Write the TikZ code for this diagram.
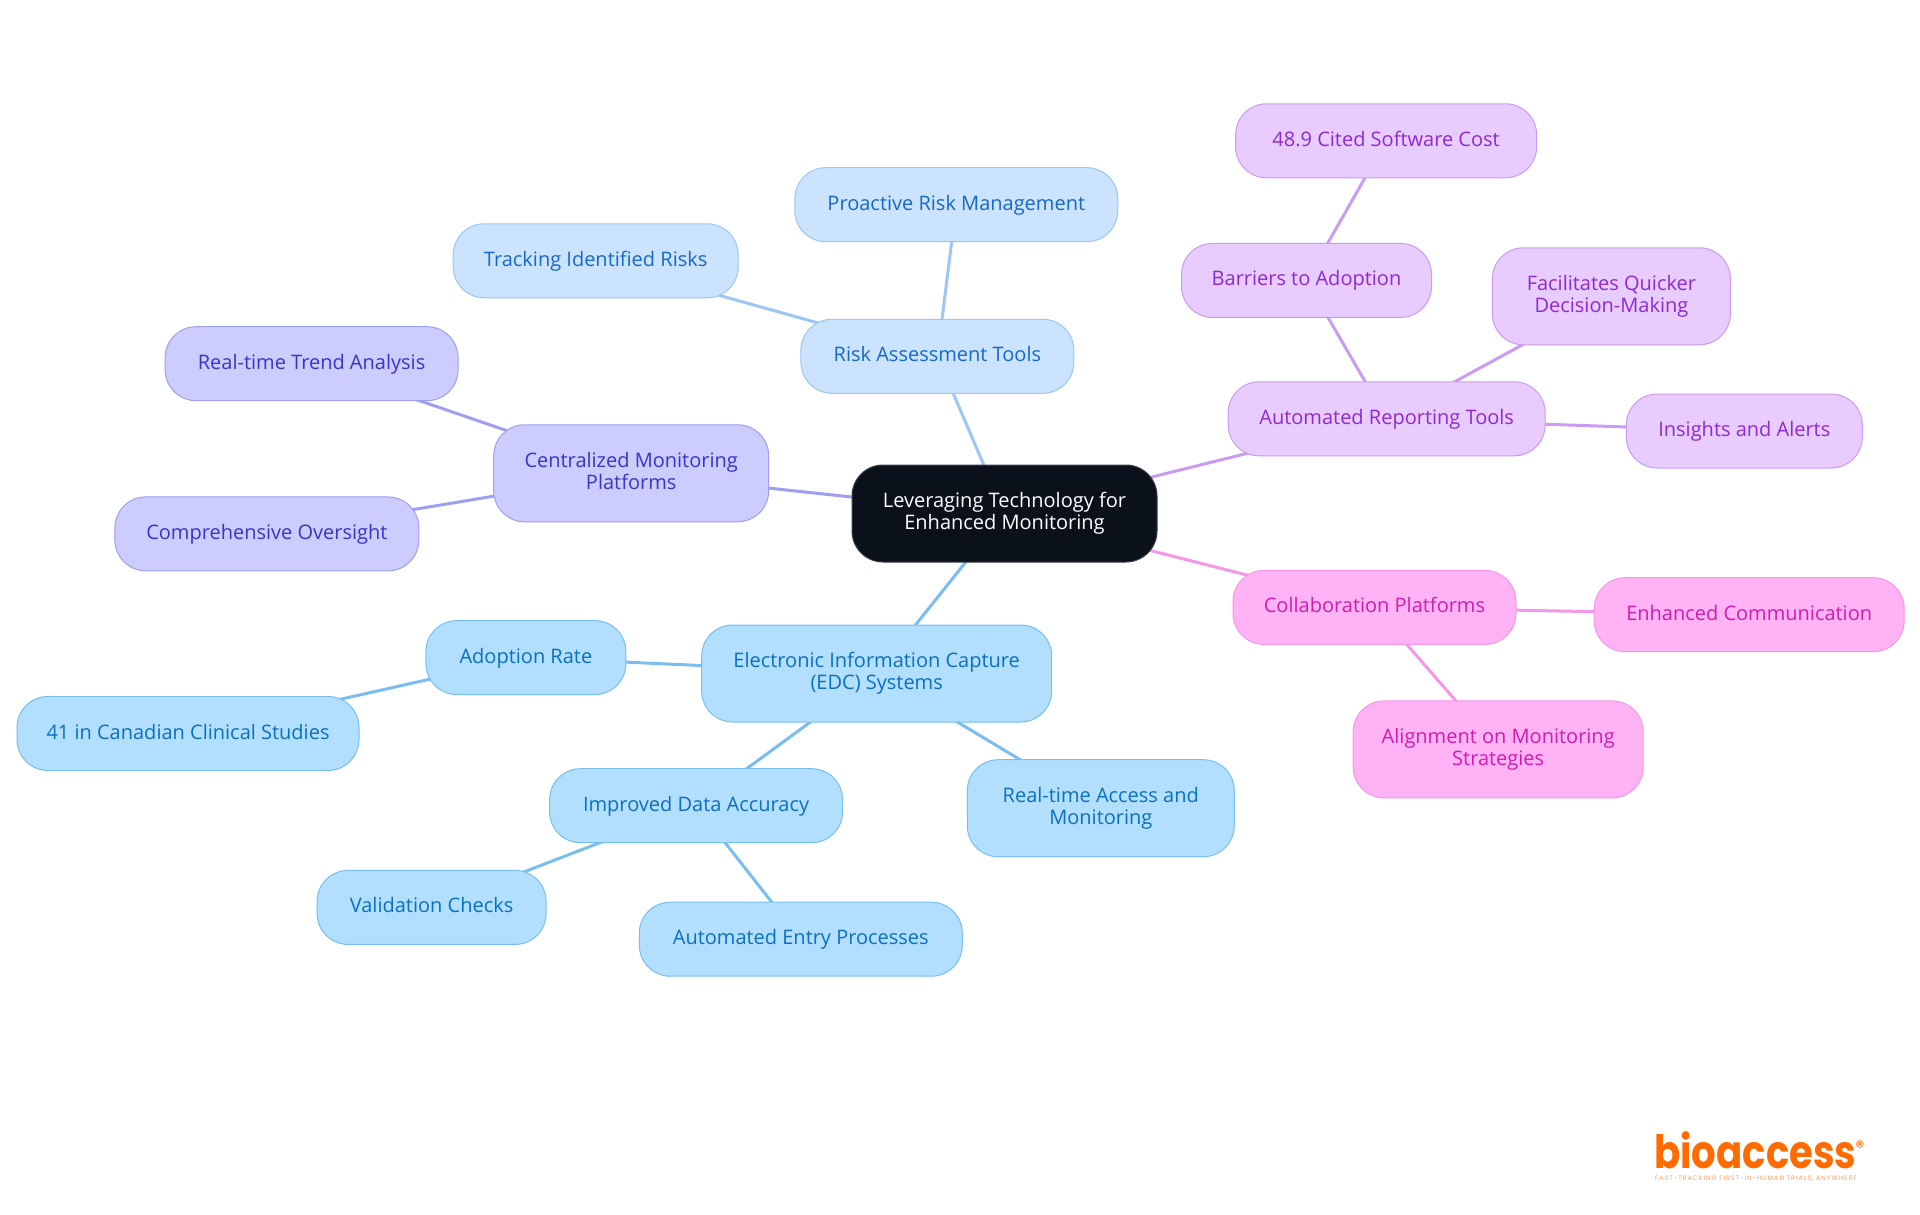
\documentclass[tikz,border=0pt]{standalone}
\usepackage{xcolor}
\usepackage{fontspec}
\setmainfont{Open Sans}
\newfontfamily\logofont[FakeStretch=0.84]{Poppins}
\newfontfamily\tagfont[LetterSpace=14]{Poppins}
\usetikzlibrary{backgrounds}
\definecolor{rootfill}{HTML}{0B111B}
\definecolor{rootline}{HTML}{3A3F47}
\definecolor{riskfill}{HTML}{CCE3FD}
\definecolor{riskline}{HTML}{9CC6F4}
\definecolor{risktext}{HTML}{1668C9}
\definecolor{centfill}{HTML}{CCCCFF}
\definecolor{centline}{HTML}{9E9EF2}
\definecolor{centtext}{HTML}{3636C8}
\definecolor{autofill}{HTML}{E8CBFF}
\definecolor{autoline}{HTML}{CB9BF3}
\definecolor{autotext}{HTML}{8F2AD0}
\definecolor{collfill}{HTML}{FFB3F4}
\definecolor{collline}{HTML}{F596E6}
\definecolor{colltext}{HTML}{D01CB0}
\definecolor{edcfill}{HTML}{B3DFFF}
\definecolor{edcline}{HTML}{78BEF0}
\definecolor{edctext}{HTML}{0A70C0}
\definecolor{logoorange}{HTML}{FF6B00}
\newcommand{\linetop}{\rule{0pt}{16pt}}
\newcommand{\linebot}{\rule[-5pt]{0pt}{5pt}}

\begin{document}
\begin{tikzpicture}[x=1pt,y=-1pt]
	\tikzstyle{vert}=[draw, rounded corners=31pt, line width=1pt, align=center, inner sep=0pt, minimum height=74pt, font=\fontsize{20}{22}\selectfont, execute at begin node=\linetop, execute at end node=\linebot]
	\tikzstyle{root}=[vert, fill=rootfill, draw=rootline, text=white, minimum height=97pt]
	\tikzstyle{risk}=[vert, fill=riskfill, draw=riskline, text=risktext]
	\tikzstyle{cent}=[vert, fill=centfill, draw=centline, text=centtext]
	\tikzstyle{auto}=[vert, fill=autofill, draw=autoline, text=autotext]
	\tikzstyle{coll}=[vert, fill=collfill, draw=collline, text=colltext]
	\tikzstyle{edc}=[vert, fill=edcfill, draw=edcline, text=edctext]
	\tikzstyle{tall}=[minimum height=97pt]
	\useasboundingbox (0,0) rectangle (1920,1215);

	\node[root] (Lev) at (1004.5,513.5) [minimum width=305pt] {Leveraging Technology for\\Enhanced Monitoring};

	\node[risk] (Risk) at (937.4,356.3) [minimum width=273pt] {Risk Assessment Tools};
	\node[risk] (Proact) at (956.3,204.7) [minimum width=323pt] {Proactive Risk Management};
	\node[risk] (Track) at (595.7,260.8) [minimum width=285pt] {Tracking Identified Risks};

	\node[cent] (Cent) at (631.2,473.3) [tall, minimum width=275pt] {Centralized Monitoring\\Platforms};
	\node[cent] (Trend) at (311.6,363.7) [minimum width=293pt] {Real-time Trend Analysis};
	\node[cent] (Over) at (266.9,533.9) [minimum width=304pt] {Comprehensive Oversight};

	\node[edc] (Edc) at (876.7,673.5) [tall, minimum width=350pt] {Electronic Information Capture\\(EDC) Systems};
	\node[edc] (Adopt) at (525.9,657.6) [minimum width=200pt] {Adoption Rate};
	\node[edc] (Canada) at (188,733.5) [minimum width=342pt] {41 in Canadian Clinical Studies};
	\node[edc] (Accur) at (696.1,805.7) [minimum width=293pt] {Improved Data Accuracy};
	\node[edc] (Valid) at (431.6,907.4) [minimum width=229pt] {Validation Checks};
	\node[edc] (Entry) at (800.8,939.2) [minimum width=323pt] {Automated Entry Processes};
	\node[edc] (Access) at (1100.8,808.2) [tall, minimum width=267pt] {Real-time Access and\\Monitoring};

	\node[auto] (Report) at (1386.7,418.8) [minimum width=317pt] {Automated Reporting Tools};
	\node[auto] (Barr) at (1306.5,280.4) [minimum width=250pt] {Barriers to Adoption};
	\node[auto] (Cost) at (1386.1,140.8) [minimum width=301pt] {48.9 Cited Software Cost};
	\node[auto] (Quick) at (1611.4,296.3) [tall, minimum width=238pt] {Facilitates Quicker\\Decision-Making};
	\node[auto] (Alert) at (1744.3,431) [minimum width=236pt] {Insights and Alerts};

	\node[coll] (Coll) at (1374.5,607.4) [minimum width=283pt] {Collaboration Platforms};
	\node[coll] (Comm) at (1749.2,614.7) [minimum width=310pt] {Enhanced Communication};
	\node[coll] (Align) at (1498.2,749.4) [tall, minimum width=290pt] {Alignment on Monitoring\\Strategies};

	\begin{scope}[on background layer]
		\path[draw=riskline, line width=3pt]
			(Lev.center) edge (Risk.center)
			(Risk.center) edge (Proact.center)
			(Risk.center) edge (Track.center);
		\path[draw=centline, line width=3pt]
			(Lev.center) edge (Cent.center)
			(Cent.center) edge (Trend.center)
			(Cent.center) edge (Over.center);
		\path[draw=edcline, line width=3pt]
			(Lev.center) edge (Edc.center)
			(Edc.center) edge (Adopt.center)
			(Adopt.center) edge (Canada.center)
			(Edc.center) edge (Accur.center)
			(Accur.center) edge (Valid.center)
			(Accur.center) edge (Entry.center)
			(Edc.center) edge (Access.center);
		\path[draw=autoline, line width=3pt]
			(Lev.center) edge (Report.center)
			(Report.center) edge (Barr.center)
			(Barr.center) edge (Cost.center)
			(Report.center) edge (Quick.center)
			(Report.center) edge (Alert.center);
		\path[draw=collline, line width=3pt]
			(Lev.center) edge (Coll.center)
			(Coll.center) edge (Comm.center)
			(Coll.center) edge (Align.center);
	\end{scope}

	% logo
	\node[text=logoorange, inner sep=0pt, anchor=base west] (Logo) at (1654,1168) {\logofont\bfseries\fontsize{46}{46}\selectfont bioaccess};
	\node[text=logoorange, inner sep=0pt] (Mark) at (1860,1147) {\tagfont\fontsize{18}{18}\selectfont ®};
	\node[text=logoorange!65, inner sep=0pt, anchor=base west] (Tag) at (1655,1180) {\tagfont\fontsize{6.5}{7}\selectfont FAST-TRACKING FIRST-IN-HUMAN TRIALS, ANYWHERE};
\end{tikzpicture}
\end{document}
